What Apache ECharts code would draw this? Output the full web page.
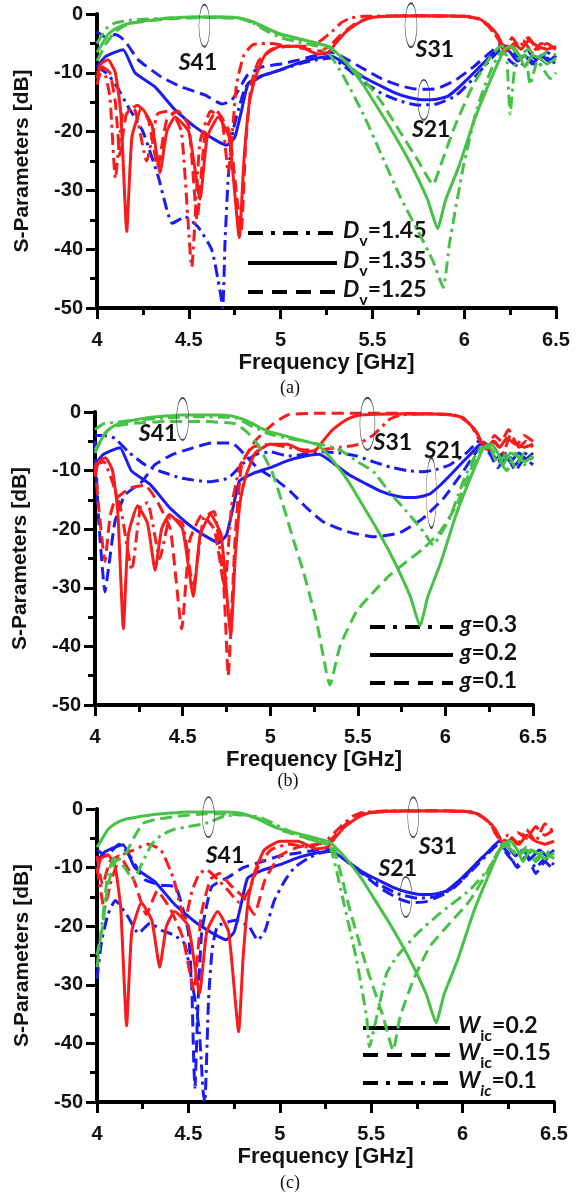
<!DOCTYPE html>
<html>
<head>
<meta charset="utf-8">
<script src="https://cdn.jsdelivr.net/npm/echarts/dist/echarts.min.js"></script>
<style>
  html, body { margin: 0; padding: 0; background: #ffffff; }
  #chart { width: 579px; height: 1194px; }
</style>
</head>
<body>
<div id="chart"></div>
<script>
// ---- axis ticks ----
const FREQ_TICKS = [4, 4.5, 5, 5.5, 6, 6.5];
const DB_TICKS = [-50, -40, -30, -20, -10, 0];

// ---- reference design (solid curves, identical in all three studies) ----
const NOM_S41 = [[4.0,-6.5],[4.03,-5],[4.06,-3.5],[4.1,-2.5],[4.15,-1.8],[4.2,-1.5],[4.3,-1.0],[4.4,-0.7],[4.5,-0.5],[4.6,-0.5],[4.7,-0.5],[4.78,-0.7],[4.84,-1.2],[4.9,-2.0],[4.95,-2.8],[5.0,-3.4],[5.1,-4.2],[5.2,-5.0],[5.27,-5.6],[5.35,-8],[5.45,-12],[5.5,-14.5],[5.6,-19.5],[5.7,-25],[5.8,-31.5],[5.855,-36.5],[5.9,-31.5],[5.97,-26],[6.06,-17.6],[6.16,-10],[6.22,-6],[6.26,-5.5],[6.3,-7],[6.33,-9],[6.37,-7],[6.41,-7.5],[6.45,-8.5],[6.5,-7.5]];
const NOM_S31 = [[4.0,-11],[4.02,-8.5],[4.06,-7.8],[4.1,-10],[4.13,-17],[4.162,-37],[4.19,-21],[4.243,-16],[4.3,-19],[4.343,-27],[4.38,-20],[4.425,-17.5],[4.5,-20],[4.561,-31.5],[4.6,-21],[4.66,-17.5],[4.72,-21],[4.775,-38],[4.8,-25],[4.83,-15],[4.86,-11],[4.915,-7],[5.0,-5.5],[5.1,-5.5],[5.2,-6.8],[5.26,-6.5],[5.3,-5],[5.35,-3.2],[5.4,-2],[5.45,-1.1],[5.5,-0.6],[5.6,-0.4],[5.8,-0.3],[6.0,-0.4],[6.08,-0.8],[6.13,-1.8],[6.18,-3.5],[6.23,-6.3],[6.27,-5],[6.31,-6],[6.35,-4.5],[6.4,-5.5],[6.45,-6],[6.5,-5.5]];
const NOM_S21 = [[4.0,-9],[4.044,-7.3],[4.1,-6.5],[4.143,-6.1],[4.207,-10],[4.316,-12.4],[4.425,-16.3],[4.534,-19.2],[4.643,-21.4],[4.706,-22.3],[4.75,-21],[4.788,-16.3],[4.824,-11.8],[4.9,-10.5],[5.0,-9.5],[5.1,-8.3],[5.2,-7.5],[5.28,-7.2],[5.35,-8.5],[5.45,-10.7],[5.55,-12.3],[5.63,-13.5],[5.7,-14.2],[5.78,-14.6],[5.85,-14.5],[5.91,-14],[5.97,-12.5],[6.03,-10.7],[6.1,-8.5],[6.14,-7.3],[6.2,-5.5],[6.25,-6.5],[6.29,-8],[6.33,-7],[6.37,-8.5],[6.42,-7],[6.46,-8],[6.5,-7]];

// ---- (a) via diameter Dv ----
const DV145_S41 = [[4.0,-5],[4.05,-2.5],[4.1,-1.5],[4.2,-1],[4.4,-0.7],[4.6,-0.5],[4.78,-0.7],[4.85,-1.5],[4.9,-2.5],[5.0,-4],[5.1,-4.8],[5.2,-5.5],[5.27,-7],[5.35,-11],[5.45,-17],[5.55,-24],[5.65,-31],[5.75,-37],[5.83,-42],[5.886,-46.5],[5.92,-39],[5.995,-26],[6.07,-16],[6.14,-10],[6.2,-6.5],[6.23,-7],[6.25,-17],[6.28,-8],[6.33,-7],[6.36,-12],[6.4,-8],[6.47,-11],[6.5,-10]];
const DV125_S41 = [[4.0,-8],[4.05,-5],[4.1,-3],[4.15,-2],[4.2,-1.5],[4.4,-0.8],[4.6,-0.6],[4.78,-0.8],[4.85,-1.5],[4.9,-2.2],[5.0,-3.5],[5.1,-4.3],[5.2,-5],[5.27,-5.8],[5.35,-8],[5.45,-11],[5.55,-15],[5.65,-20],[5.75,-25],[5.83,-29],[5.88,-25],[5.95,-19],[6.05,-12],[6.15,-7],[6.2,-5.5],[6.25,-5.5],[6.3,-7],[6.35,-6],[6.4,-7.5],[6.45,-6.5],[6.5,-7]];
const DV145_S31 = [[4.0,-10],[4.03,-9],[4.07,-14],[4.1,-28],[4.14,-17],[4.2,-16],[4.27,-25],[4.33,-17],[4.4,-16.5],[4.46,-20],[4.516,-43],[4.56,-22],[4.62,-16.5],[4.68,-18],[4.715,-27],[4.76,-12],[4.8,-7],[4.85,-5.2],[4.95,-5],[5.05,-5.5],[5.15,-5.5],[5.22,-4.5],[5.28,-3],[5.33,-1.5],[5.38,-0.7],[5.45,-0.4],[5.7,-0.3],[6.0,-0.4],[6.08,-0.8],[6.13,-2],[6.18,-4],[6.22,-6.5],[6.26,-4],[6.3,-5.5],[6.35,-4],[6.4,-6],[6.45,-5],[6.5,-6]];
const DV125_S31 = [[4.0,-12],[4.03,-9],[4.07,-10],[4.1,-15],[4.125,-24],[4.16,-17],[4.22,-15.5],[4.28,-18],[4.33,-26],[4.38,-18],[4.44,-16.5],[4.5,-19],[4.545,-35],[4.59,-20],[4.65,-16.5],[4.72,-20],[4.785,-37],[4.81,-22],[4.84,-12],[4.88,-8],[4.95,-6],[5.05,-5.5],[5.15,-6],[5.22,-6.3],[5.28,-5],[5.33,-3.5],[5.4,-1.8],[5.45,-1],[5.5,-0.5],[5.7,-0.3],[6.0,-0.4],[6.08,-0.9],[6.13,-2],[6.18,-4],[6.22,-6],[6.27,-5.5],[6.32,-4.5],[6.37,-6.5],[6.42,-5],[6.5,-6]];
const DV145_S21 = [[4.0,-9],[4.05,-10],[4.098,-11.8],[4.17,-15.8],[4.25,-20],[4.334,-27.7],[4.41,-35.6],[4.48,-34.5],[4.55,-36.2],[4.625,-40.1],[4.67,-47],[4.685,-50],[4.697,-39],[4.715,-27.7],[4.74,-20],[4.77,-16.3],[4.81,-12.4],[4.9,-10.5],[5.0,-9.5],[5.1,-8.5],[5.2,-7.8],[5.28,-7.5],[5.35,-9],[5.45,-11.5],[5.55,-13.5],[5.65,-14.8],[5.75,-15.5],[5.85,-15.3],[5.95,-14],[6.05,-11],[6.15,-7.5],[6.2,-6],[6.25,-8],[6.3,-9],[6.35,-7.5],[6.4,-9],[6.45,-7.5],[6.5,-8.5]];
const DV125_S21 = [[4.0,-3],[4.05,-4],[4.1,-3.5],[4.15,-4.5],[4.225,-7.8],[4.35,-10.7],[4.46,-12.4],[4.59,-13.8],[4.68,-15.3],[4.73,-14.8],[4.77,-13],[4.82,-10.4],[4.9,-9],[5.0,-8.5],[5.1,-7.8],[5.2,-7],[5.28,-6.5],[5.35,-7.5],[5.45,-9.3],[5.55,-11],[5.65,-12.2],[5.75,-12.8],[5.85,-12.7],[5.95,-11.3],[6.05,-9],[6.15,-6.3],[6.2,-5.2],[6.25,-6],[6.3,-7.5],[6.35,-6.5],[6.4,-8],[6.45,-6.5],[6.5,-7.5]];

// ---- (b) gap g ----
const G03_S41 = [[4.0,-3],[4.05,-2],[4.1,-1.8],[4.2,-1.5],[4.4,-1],[4.6,-0.8],[4.8,-1],[4.9,-2.5],[5.0,-3.8],[5.1,-4.5],[5.2,-5],[5.3,-5.6],[5.4,-6.5],[5.5,-8.5],[5.59,-10.2],[5.684,-13.8],[5.78,-17],[5.874,-20.4],[5.93,-22.7],[5.97,-21],[6.026,-18],[6.1,-12],[6.16,-8],[6.2,-6.3],[6.25,-6],[6.3,-8],[6.35,-10],[6.4,-7],[6.45,-9],[6.5,-7.5]];
const G01_S41 = [[4.0,-7],[4.05,-4],[4.1,-2.5],[4.2,-2],[4.4,-1.6],[4.6,-1.6],[4.8,-2],[4.87,-3.5],[4.93,-5.6],[5.01,-10.2],[5.085,-17],[5.13,-21.6],[5.19,-27.3],[5.265,-35.8],[5.32,-44.3],[5.34,-46.6],[5.4,-39.8],[5.494,-34],[5.59,-30.7],[5.684,-27.8],[5.78,-25.5],[5.874,-23.3],[5.97,-20.4],[6.064,-15.9],[6.14,-10.2],[6.2,-6.2],[6.25,-6],[6.3,-9],[6.35,-7],[6.4,-9.5],[6.45,-7],[6.5,-8]];
const G03_S31 = [[4.0,-9],[4.05,-8.5],[4.1,-12],[4.15,-17],[4.21,-27],[4.26,-16],[4.3,-15.5],[4.37,-25],[4.43,-18],[4.5,-19],[4.56,-30],[4.62,-18],[4.68,-17],[4.74,-30],[4.78,-16],[4.83,-9],[4.9,-6],[5.0,-5.5],[5.1,-6],[5.2,-6.5],[5.3,-6.4],[5.4,-6],[5.494,-5.6],[5.59,-3.9],[5.684,-1.2],[5.75,-0.5],[5.9,-0.3],[6.05,-0.5],[6.1,-1],[6.15,-2.5],[6.2,-5],[6.24,-6.5],[6.28,-5],[6.33,-7],[6.37,-4],[6.42,-6],[6.46,-5],[6.5,-6]];
const G01_S31 = [[4.0,-9],[4.02,-16],[4.057,-25.5],[4.085,-18],[4.114,-15],[4.2,-13],[4.285,-12.5],[4.35,-15],[4.43,-20],[4.495,-37],[4.54,-22],[4.61,-17.6],[4.68,-20],[4.735,-30],[4.76,-45],[4.8,-21.5],[4.837,-9],[4.913,-5],[5.01,-2.2],[5.1,-0.5],[5.3,-0.2],[5.6,-0.2],[5.9,-0.3],[6.05,-0.5],[6.1,-1],[6.15,-2.5],[6.2,-4.5],[6.24,-6],[6.28,-4],[6.32,-5],[6.36,-3],[6.41,-5.5],[6.45,-4],[6.5,-5]];
const G03_S21 = [[4.0,-4],[4.05,-4],[4.114,-4.5],[4.19,-6.8],[4.285,-9],[4.38,-10.2],[4.495,-11.3],[4.647,-11.9],[4.76,-11.3],[4.837,-9],[4.913,-7.3],[5.0,-6.8],[5.1,-7.5],[5.2,-7.2],[5.3,-6.8],[5.4,-7],[5.494,-7.5],[5.59,-8.5],[5.684,-9.4],[5.78,-10],[5.874,-10.2],[5.95,-9.8],[6.026,-9],[6.12,-7],[6.2,-4.8],[6.25,-6],[6.3,-8.5],[6.35,-7],[6.4,-9],[6.45,-7],[6.5,-8]];
const G01_S21 = [[4.0,-5],[4.02,-18],[4.057,-30.7],[4.08,-26],[4.114,-18.7],[4.17,-14.2],[4.267,-11.9],[4.342,-9],[4.438,-7.3],[4.55,-6.2],[4.666,-5.3],[4.78,-5.3],[4.856,-7.3],[4.93,-9.6],[5.03,-11.5],[5.113,-13.5],[5.21,-16.4],[5.3,-18.7],[5.437,-20.4],[5.59,-21.3],[5.74,-20.6],[5.874,-18.1],[5.99,-14.7],[6.1,-10.2],[6.2,-6.2],[6.25,-7],[6.3,-9.5],[6.35,-7.5],[6.4,-10],[6.45,-8],[6.5,-9]];

// ---- (c) coupling width Wic ----
const W015_S41 = [[4.0,-25],[4.03,-20],[4.06,-13],[4.1,-9],[4.15,-8],[4.2,-5],[4.25,-2.5],[4.32,-1.8],[4.45,-1.2],[4.6,-0.8],[4.8,-1],[4.9,-1.8],[5.0,-3.5],[5.1,-4.5],[5.2,-5.5],[5.29,-6.4],[5.384,-17.3],[5.475,-27],[5.566,-35.5],[5.62,-41.2],[5.658,-35.5],[5.73,-29.2],[5.82,-23.5],[5.93,-19.5],[6.04,-15.6],[6.13,-11],[6.2,-7],[6.25,-6.5],[6.3,-8],[6.35,-7],[6.4,-9],[6.45,-7.5],[6.5,-8.5]];
const W01_S41 = [[4.0,-27],[4.03,-19],[4.06,-11],[4.1,-8],[4.15,-10],[4.2,-12],[4.25,-9],[4.3,-6],[4.35,-4.5],[4.42,-3.5],[4.5,-3],[4.6,-2.4],[4.7,-1.2],[4.8,-1],[4.9,-1.5],[5.0,-3],[5.1,-4.5],[5.2,-5.5],[5.275,-6.4],[5.347,-15.6],[5.42,-25.8],[5.475,-35.5],[5.49,-40.6],[5.53,-35.5],[5.585,-28],[5.64,-25.2],[5.75,-21.3],[5.876,-17.8],[6.04,-13.8],[6.15,-9.9],[6.2,-7],[6.25,-6],[6.3,-8],[6.35,-6.5],[6.4,-8.5],[6.45,-7],[6.5,-8]];
const W015_S31 = [[4.0,-8],[4.03,-13],[4.07,-9],[4.12,-8],[4.2,-12],[4.27,-18],[4.33,-14],[4.4,-17],[4.47,-22],[4.53,-31],[4.57,-18],[4.62,-12],[4.67,-11],[4.73,-13],[4.8,-15],[4.86,-18],[4.92,-12],[5.0,-8],[5.1,-6.5],[5.2,-6],[5.27,-5.5],[5.33,-3.5],[5.4,-1.5],[5.45,-0.8],[5.6,-0.4],[5.9,-0.3],[6.05,-0.5],[6.1,-1.2],[6.15,-2.5],[6.2,-5],[6.25,-5.5],[6.3,-4],[6.35,-5],[6.4,-3],[6.45,-4.5],[6.5,-3.5]];
const W01_S31 = [[4.0,-10],[4.04,-17],[4.08,-12],[4.13,-8],[4.2,-7],[4.28,-6],[4.35,-7],[4.42,-12],[4.48,-19],[4.52,-14],[4.56,-11],[4.6,-10.4],[4.66,-12],[4.72,-14],[4.78,-16],[4.83,-14],[4.88,-10],[4.95,-7],[5.05,-6],[5.15,-6.5],[5.25,-5.5],[5.3,-4],[5.35,-2.5],[5.4,-1.2],[5.45,-0.6],[5.6,-0.3],[5.9,-0.3],[6.05,-0.5],[6.1,-1.2],[6.15,-2.5],[6.2,-5],[6.25,-4.5],[6.3,-6],[6.35,-3.5],[6.4,-5.5],[6.45,-2.5],[6.5,-4]];
const W015_S21 = [[4.0,-7],[4.05,-8],[4.12,-6],[4.18,-8],[4.26,-12],[4.35,-13],[4.43,-13.3],[4.47,-17],[4.5,-21],[4.518,-30],[4.53,-44],[4.536,-47.5],[4.55,-35],[4.573,-21],[4.627,-13.3],[4.72,-11.6],[4.8,-10],[4.9,-9],[5.0,-8],[5.1,-7.5],[5.2,-7],[5.28,-6.8],[5.35,-8.5],[5.45,-11],[5.55,-13.5],[5.65,-15.3],[5.72,-16],[5.8,-15.8],[5.9,-14.5],[6.0,-12],[6.1,-8.5],[6.2,-6],[6.25,-7.5],[6.3,-10],[6.35,-8],[6.4,-11],[6.45,-9],[6.5,-10.5]];
const W01_S21 = [[4.0,-29],[4.026,-22.4],[4.06,-18],[4.1,-15.6],[4.17,-18.4],[4.226,-21.2],[4.29,-19.5],[4.354,-20.7],[4.42,-21.5],[4.48,-23],[4.536,-32.6],[4.56,-38],[4.58,-48],[4.59,-50],[4.61,-32.6],[4.63,-24],[4.66,-20],[4.76,-19],[4.83,-20],[4.88,-22.4],[4.92,-20.7],[4.97,-15.6],[5.03,-12.1],[5.08,-10],[5.15,-8.5],[5.22,-7.5],[5.28,-7.2],[5.35,-8.5],[5.45,-10.8],[5.55,-13],[5.65,-14.5],[5.75,-15.2],[5.85,-15],[5.95,-13.5],[6.05,-10.5],[6.15,-7.3],[6.2,-5.8],[6.25,-8],[6.3,-9.5],[6.35,-8],[6.4,-10],[6.45,-8.5],[6.5,-9.5]];

// ---- annotation anchors [freq, dB] ----
const MARK_LABELS = [
  [[4.55,-8.2],'41'], [[5.84,-6.1],'31'], [[5.82,-19.7],'21'],
  [[4.36,-3.6],'41'], [[5.70,-5.3],'31'], [[5.99,-6.5],'21'],
  [[4.70,-7.9],'41'], [[5.865,-6.4],'31'], [[5.645,-10.1],'21']
];
const MARK_RINGS = [
  [[4.585,-2.0],[5.71,-1.9],[5.78,-14.6]],
  [[4.50,-1.2],[5.555,-2.0],[5.92,-13.8]],
  [[4.61,-1.4],[5.73,-1.4],[5.69,-15.0]]
];
const RING_SIZES = [
  [[11,42],[12,44],[12,40]],
  [[12,42],[15,52],[10,70]],
  [[12,40],[11,40],[12,40]]
];

const LEGEND_A = [['dashdot','1.45'],['solid','1.35'],['dashed','1.25']];
const LEGEND_B = [['dashdot','0.3'],['solid','0.2'],['dashed','0.1']];
const LEGEND_C = [['solid','0.2'],['dashed','0.15'],['dashdot','0.1']];

// ---- styling ----
const RED = '#fa1c1c', BLUE = '#1c1cf2', GREEN = '#47c247';
const DASH = [12, 6];
const DASHDOT = [12, 5, 3, 5];
const LINE_TYPES = { solid: 'solid', dashed: DASH, dashdot: DASHDOT };
const LEG_DASH = { solid: null, dashed: [15, 9], dashdot: [15, 8, 4, 8] };

const GRIDS = [
  { left: 97, top: 14, width: 459, height: 294 },
  { left: 95, top: 412, width: 438, height: 293 },
  { left: 97, top: 809, width: 457, height: 293 }
];

const AXIS_FONT = 'Liberation Sans, Arial, sans-serif';
const LABEL_FONT = 'Lato, Open Sans, sans-serif';

function xAxisFor(i) {
  return {
    type: 'value', gridIndex: i, min: FREQ_TICKS[0], max: FREQ_TICKS[FREQ_TICKS.length - 1],
    interval: 0.5,
    name: 'Frequency [GHz]', nameLocation: 'middle', nameGap: 44,
    nameTextStyle: { fontFamily: AXIS_FONT, fontWeight: 'bold', fontSize: 22, color: '#111' },
    axisLine: { onZero: false, lineStyle: { color: '#000', width: 4 } },
    axisTick: { show: true, inside: false, length: 11, lineStyle: { color: '#000', width: 3 } },
    minorTick: { show: true, splitNumber: 2, length: 7, lineStyle: { color: '#000', width: 3 } },
    splitLine: { show: false },
    axisLabel: { margin: 22, fontFamily: AXIS_FONT, fontWeight: 'bold', fontSize: 20, color: '#111' }
  };
}
function yAxisFor(i) {
  return {
    type: 'value', gridIndex: i, min: DB_TICKS[0], max: DB_TICKS[DB_TICKS.length - 1],
    interval: 10,
    name: 'S-Parameters [dB]', nameLocation: 'middle', nameGap: 64,
    nameTextStyle: { fontFamily: AXIS_FONT, fontWeight: 'bold', fontSize: 21, color: '#111' },
    axisLine: { show: true, onZero: false, lineStyle: { color: '#000', width: 4 } },
    axisTick: { show: true, inside: false, length: 11, lineStyle: { color: '#000', width: 3 } },
    minorTick: { show: true, splitNumber: 2, length: 7, lineStyle: { color: '#000', width: 3 } },
    splitLine: { show: false },
    axisLabel: { margin: 14, fontFamily: AXIS_FONT, fontWeight: 'bold', fontSize: 20, color: '#111' }
  };
}

function curve(panel, data, color, kind) {
  return {
    type: 'line', xAxisIndex: panel, yAxisIndex: panel, data: data,
    showSymbol: false, symbol: 'none', smooth: 0.15, clip: true, silent: true,
    lineStyle: { color: color, width: 3, type: LINE_TYPES[kind] },
    z: color === BLUE ? 2 : (color === RED ? 3 : 4)
  };
}

const PANELS = [
  { a: ['dashdot', DV145_S21, DV145_S31, DV145_S41], b: ['dashed', DV125_S21, DV125_S31, DV125_S41] },
  { a: ['dashdot', G03_S21, G03_S31, G03_S41], b: ['dashed', G01_S21, G01_S31, G01_S41] },
  { a: ['dashed', W015_S21, W015_S31, W015_S41], b: ['dashdot', W01_S21, W01_S31, W01_S41] }
];

const series = [];
PANELS.forEach((p, i) => {
  const variants = [p.a, p.b];
  // blue first, then red, then green on top
  variants.forEach(v => series.push(curve(i, v[1], BLUE, v[0])));
  series.push(curve(i, NOM_S21, BLUE, 'solid'));
  variants.forEach(v => series.push(curve(i, v[2], RED, v[0])));
  series.push(curve(i, NOM_S31, RED, 'solid'));
  variants.forEach(v => series.push(curve(i, v[3], GREEN, v[0])));
  series.push(curve(i, NOM_S41, GREEN, 'solid'));

  // thin rings grouping the curves of one S-parameter
  series.push({
    type: 'scatter', xAxisIndex: i, yAxisIndex: i, silent: true, z: 6,
    symbol: 'circle',
    data: MARK_RINGS[i].map((pt, k) => ({ value: pt, symbolSize: RING_SIZES[i][k] })),
    itemStyle: { color: 'rgba(0,0,0,0)', borderColor: '#444', borderWidth: 1, opacity: 1 }
  });
  // S-parameter names
  series.push({
    type: 'scatter', xAxisIndex: i, yAxisIndex: i, silent: true, z: 7,
    symbolSize: 0, itemStyle: { color: '#000', opacity: 1 },
    data: MARK_LABELS.slice(i * 3, i * 3 + 3).map(m => ({ value: m[0], name: m[1] })),
    label: {
      show: true, position: 'inside', opacity: 1,
      formatter: d => '{i|S}{n|' + d.name + '}',
      rich: {
        i: { fontFamily: LABEL_FONT, fontWeight: 'bold', fontStyle: 'italic', fontSize: 23, color: '#111' },
        n: { fontFamily: LABEL_FONT, fontWeight: 'bold', fontSize: 23, color: '#111' }
      }
    }
  });
});

// ---- legends and captions ----
const legRich = {
  i: { fontFamily: LABEL_FONT, fontWeight: 'bold', fontStyle: 'italic', fontSize: 23, lineHeight: 27, verticalAlign: 'top', fill: '#111' },
  n: { fontFamily: LABEL_FONT, fontWeight: 'bold', fontSize: 23, lineHeight: 27, verticalAlign: 'top', fill: '#111' },
  s: { fontFamily: LABEL_FONT, fontWeight: 'bold', fontSize: 16, lineHeight: 15, padding: [13, 0, 0, 0], verticalAlign: 'top', fill: '#111' },
  si: { fontFamily: LABEL_FONT, fontWeight: 'bold', fontStyle: 'italic', fontSize: 16, lineHeight: 15, padding: [13, 0, 0, 0], verticalAlign: 'top', fill: '#111' }
};
const graphic = [];
function legendBlock(rows, x1, x2, ys, tx, fmt) {
  rows.forEach((r, k) => {
    graphic.push({
      type: 'line', silent: true,
      shape: { x1: x1, y1: ys[k], x2: x2, y2: ys[k] },
      style: { stroke: '#000', lineWidth: 4, lineDash: LEG_DASH[r[0]] }
    });
    graphic.push({
      type: 'text', silent: true, x: tx, y: ys[k],
      style: { text: fmt(r[1], k), rich: legRich, verticalAlign: 'middle', align: 'left' }
    });
  });
}
legendBlock(LEGEND_A, 248, 337, [233, 263, 292], 343, v => '{i|D}{s|v}{n|=' + v + '}');
legendBlock(LEGEND_B, 370, 453, [627, 655, 683], 460, v => '{i|g}{n|=' + v + '}');
legendBlock(LEGEND_C, 363, 450, [1028, 1055, 1083], 458, (v, k) => '{i|W}' + (k === 2 ? '{si|ic}' : '{s|ic}') + '{n|=' + v + '}');

[['(a)', 290, 388], ['(b)', 288, 781], ['(c)', 290, 1183]].forEach(c => {
  graphic.push({
    type: 'text', silent: true, x: c[1], y: c[2],
    style: { text: c[0], font: '18px "Liberation Serif", "DejaVu Serif", serif', fill: '#111', align: 'center', verticalAlign: 'middle' }
  });
});

const chart = echarts.init(document.getElementById('chart'), null, { renderer: 'canvas' });
chart.setOption({
  animation: false,
  backgroundColor: '#ffffff',
  grid: GRIDS.map(g => Object.assign({ containLabel: false }, g)),
  xAxis: GRIDS.map((g, i) => xAxisFor(i)),
  yAxis: GRIDS.map((g, i) => yAxisFor(i)),
  series: series,
  graphic: graphic
});
</script>
</body>
</html>
